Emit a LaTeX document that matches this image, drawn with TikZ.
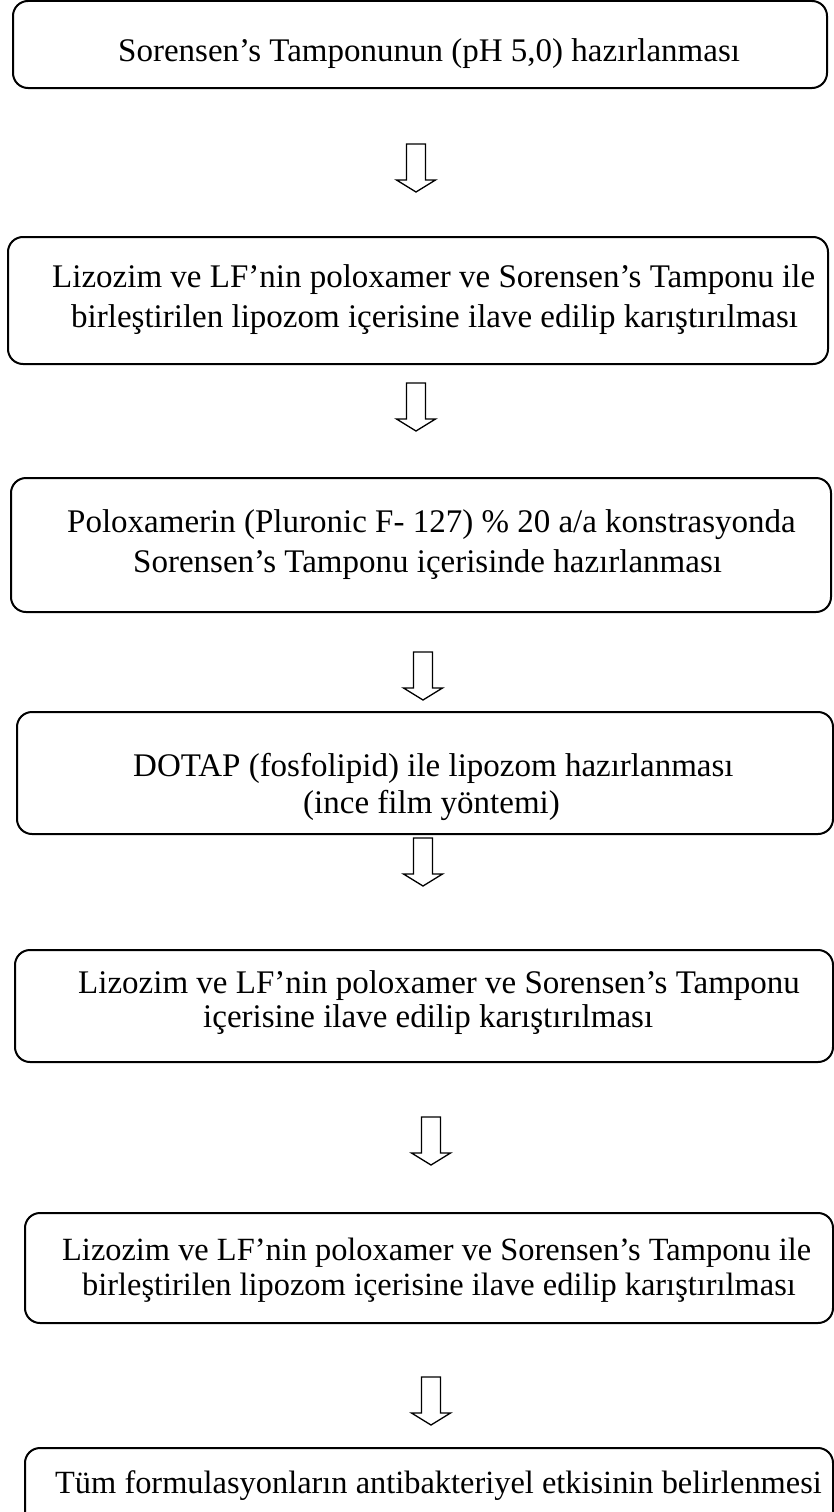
\documentclass[tikz,border=0pt]{standalone}
\usepackage{fontspec}
\setmainfont{Liberation Serif}
\begin{document}
\begin{tikzpicture}[x=1pt,y=-1pt,
  box/.style={draw=black, line width=2pt, rounded corners=15pt, inner sep=0pt},
  txt/.style={anchor=base west, inner sep=0pt, font=\fontsize{33}{40}\selectfont},
  txtsmall/.style={anchor=base west, inner sep=0pt, font=\fontsize{32.4}{39}\selectfont},
  arrowline/.style={draw=black, line width=1.3pt, line join=miter, fill=white},
  pics/downarrow/.style={code={
    \draw[arrowline] (-9.5,0) -- (-9.5,36) -- (-19.5,36) -- (0,48) -- (19.5,36) -- (9.5,36) -- (9.5,0) -- cycle;
  }}]
\useasboundingbox (0,0) rectangle (834,1512);
\fill[white] (0,0) rectangle (834,1512);

% boxes
\node[box, minimum width=814pt, minimum height=87pt] (b1) at (420,44.5) {};
\node[box, minimum width=820pt, minimum height=127pt] (b2) at (418,300.5) {};
\node[box, minimum width=820pt, minimum height=134pt] (b3) at (421,545) {};
\node[box, minimum width=816pt, minimum height=122pt] (b4) at (425,773) {};
\node[box, minimum width=818pt, minimum height=112pt] (b5) at (424,1006) {};
\node[box, minimum width=808pt, minimum height=110pt] (b6) at (429,1268) {};
\node[box, minimum width=808pt, minimum height=82pt] (b7) at (429,1489) {};

% texts
\node[txt] (t1) at (118,62) {Sorensen’s Tamponunun (pH 5,0) hazırlanması};
\node[txt] (t2a) at (52,287) {Lizozim ve LF’nin poloxamer ve Sorensen’s Tamponu ile};
\node[txt] (t2b) at (71,327) {birleştirilen lipozom içerisine ilave edilip karıştırılması};
\node[txt] (t3a) at (67,532) {Poloxamerin (Pluronic F- 127) \% 20 a/a konstrasyonda};
\node[txt] (t3b) at (133,572) {Sorensen’s Tamponu içerisinde hazırlanması};
\node[txt] (t4a) at (133,776) {DOTAP (fosfolipid) ile lipozom hazırlanması};
\node[txt] (t4b) at (303,813) {(ince film yöntemi)};
\node[txt] (t5a) at (78,993) {Lizozim ve LF’nin poloxamer ve Sorensen’s Tamponu};
\node[txt] (t5b) at (203,1027) {içerisine ilave edilip karıştırılması};
\node[txtsmall] (t6a) at (62,1260) {Lizozim ve LF’nin poloxamer ve Sorensen’s Tamponu ile};
\node[txtsmall] (t6b) at (82,1295) {birleştirilen lipozom içerisine ilave edilip karıştırılması};
\node[txtsmall] (t7) at (55,1493) {Tüm formulasyonların antibakteriyel etkisinin belirlenmesi};

% block arrows
\pic (a1) at (416,144) {downarrow};
\pic (a2) at (416,383) {downarrow};
\pic (a3) at (423,652) {downarrow};
\pic (a4) at (423,838) {downarrow};
\pic (a5) at (431,1117) {downarrow};
\pic (a6) at (431,1377) {downarrow};
\end{tikzpicture}
\end{document}
